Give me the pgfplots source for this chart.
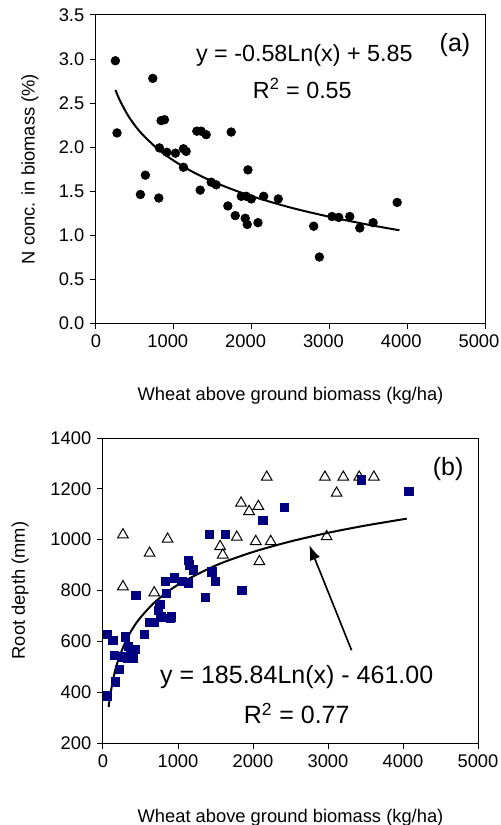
\documentclass[border=0pt]{standalone}
\usepackage{fontspec}
\setmainfont{Liberation Sans}
\usepackage{pgfplots}
\pgfplotsset{compat=1.18}
\usetikzlibrary{arrows.meta}
\definecolor{navyb}{RGB}{0,0,128}

\pgfplotsset{
  panel/.style={
    scale only axis,
    xmin=0, xmax=5000,
    xtick={0,1000,...,5000},
    scaled ticks=false,
    tick align=outside,
    xtick pos=bottom, ytick pos=left,
    major tick length=3.5pt,
    axis line style={line width=0.6pt},
    every tick/.style={black, line width=0.6pt},
    tick label style={font=\fontsize{11}{13}\selectfont},
    label style={font=\fontsize{11}{13}\selectfont},
    /pgf/number format/assume math mode=true,
    /pgf/number format/1000 sep={},
    clip=false,
  }
}

\begin{document}
\begin{tikzpicture}
\useasboundingbox (0,0) rectangle (300pt,-495pt);

% ---------- panel (a)
\begin{axis}[panel,
  at={(57.6pt,-9pt)}, anchor=north west,
  width=233.4pt, height=184.8pt,
  ymin=0, ymax=3.5, ytick={0,0.5,...,3.5},
  yticklabel style={/pgf/number format/.cd, fixed, fixed zerofill, precision=1},
  xticklabels={\hspace*{7.2pt}0,1000,2000,3000,4000,5000},
  xticklabel style={xshift=-3.6pt},
  xlabel={Wheat above ground biomass (kg/ha)},
  ylabel={N conc. in biomass (\%)},
  xlabel style={at={(axis description cs:0.5,-0.235)}, anchor=center},
  ylabel style={at={(axis description cs:-0.17,0.5)}, anchor=center},
]
\addplot[only marks, mark=*, mark size=2.6pt, black] coordinates {
  (249,2.98) (730,2.78) (270,2.16) (837,2.30) (880,2.31) (815,1.99)
  (910,1.94) (1021,1.93) (1124,1.98) (1159,1.95) (1124,1.77) (635,1.68)
  (571,1.46) (807,1.42) (1296,2.18) (1352,2.18) (1416,2.14) (1738,2.17)
  (1339,1.51) (1481,1.60) (1545,1.57) (1953,1.74) (1867,1.44) (1931,1.44)
  (1996,1.41) (2155,1.44) (2343,1.41) (1695,1.33) (1790,1.22) (1918,1.19)
  (1944,1.12) (2082,1.14) (2798,1.10) (2871,0.75) (3034,1.21) (3120,1.20)
  (3262,1.21) (3391,1.08) (3562,1.14) (3871,1.37)
};
\addplot[smooth, line width=1.2pt, black, no marks] coordinates {
  (250,2.648) (300,2.542) (400,2.375) (500,2.245) (600,2.140) (800,1.973)
  (1000,1.844) (1250,1.714) (1500,1.608) (1750,1.519) (2000,1.441)
  (2500,1.312) (3000,1.207) (3500,1.117) (3900,1.054)
};
\node[font=\fontsize{14}{16}\selectfont] at (axis cs:2678,3.045) {y = -0.58Ln(x) + 5.85};
\node[font=\fontsize{14}{16}\selectfont] at (axis cs:2652,2.666) {R\textsuperscript{2} = 0.55};
\node[font=\fontsize{15}{17}\selectfont] at (axis cs:4614,3.16) {(a)};
\end{axis}

% ---------- panel (b)
\begin{axis}[panel,
  at={(61.8pt,-262.8pt)}, anchor=north west,
  width=225pt, height=183pt,
  ymin=200, ymax=1400, ytick={200,400,...,1400},
  xlabel={Wheat above ground biomass (kg/ha)},
  ylabel={Root depth (mm)},
  xlabel style={at={(axis description cs:0.5,-0.245)}, anchor=center},
  ylabel style={at={(axis description cs:-0.221,0.5)}, anchor=center},
]
\addplot[only marks, mark=triangle, mark size=3.7pt,
  mark options={draw=black, fill=white, line width=0.6pt}] coordinates {
  (266,1019) (266,815) (621,947) (861,1002) (683,791) (1784,1010)
  (1562,973) (1597,940) (1841,1144) (1948,1111) (2072,1131) (2037,993)
  (2236,993) (2085,914) (2183,1246) (2959,1246) (3115,1183) (3204,1246)
  (3416,1246) (3612,1246) (2982,1012)
};
\addplot[only marks, mark=square*, mark size=2.5pt, navyb] coordinates {
  (60,386) (62,628) (131,605) (153,546) (164,441) (220,489) (275,542)
  (297,618) (330,533) (364,565) (430,568) (253,539) (408,533) (342,580)
  (439,781) (552,627) (615,676) (685,676) (741,722) (758,745) (772,697)
  (830,835) (841,788) (896,690) (910,697) (948,850) (1052,835) (1140,920)
  (1154,901) (1140,830) (1200,881) (1362,772) (1420,1021) (1451,874)
  (1495,837) (1628,1021) (1850,802) (2130,1075) (2418,1127) (3448,1236)
  (4078,1191)
};
\addplot[smooth, line width=1.2pt, black, no marks] coordinates {
  (75,341.4) (100,394.8) (150,470.2) (200,523.6) (300,599.0) (400,652.5)
  (500,693.9) (700,756.5) (1000,822.7) (1500,898.1) (2000,951.6)
  (2500,993.0) (3000,1026.9) (3500,1055.5) (4050,1082.7)
};
\draw[-{Latex[length=9pt,width=6.5pt]}, line width=1pt]
  (axis cs:3314,565) -- (axis cs:2751,979);
\node[font=\fontsize{15}{17}\selectfont] at (axis cs:2582,460) {y = 185.84Ln(x) - 461.00};
\node[font=\fontsize{15}{17}\selectfont] at (axis cs:2582,316) {R\textsuperscript{2} = 0.77};
\node[font=\fontsize{15}{17}\selectfont] at (axis cs:4601,1278) {(b)};
\end{axis}
\end{tikzpicture}
\end{document}
